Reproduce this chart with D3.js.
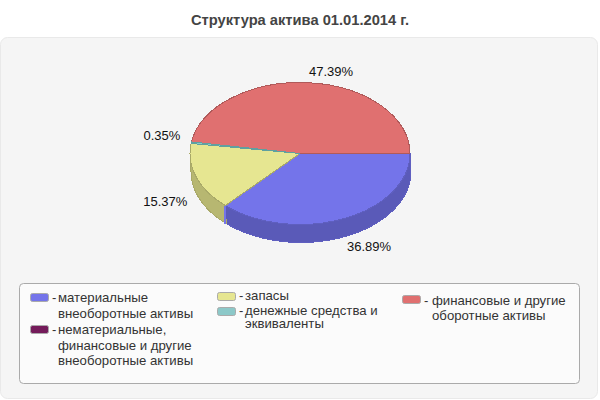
<!DOCTYPE html>
<html>
<head>
<meta charset="utf-8">
<script src="https://cdn.jsdelivr.net/npm/d3@7"></script>
<style>
  html, body { margin: 0; padding: 0; background: #fff; }
  svg { display: block; }
  text { font-family: "Liberation Sans", Arial, sans-serif; }
</style>
</head>
<body>
<script>
const title = "Структура актива 01.01.2014 г.";
const categories = [
  ["материальные", "внеоборотные активы"],
  ["нематериальные,", "финансовые и другие", "внеоборотные активы"],
  ["запасы"],
  ["денежные средства и", "эквиваленты"],
  ["финансовые и другие", "оборотные активы"]
];
const values = [36.89, 0, 15.37, 0.35, 47.39];
const topColors = ["#7474ea", "#741b5a", "#e6e691", "#8cc8c8", "#e07070"];
const sideColors = ["#5a5ab8", "#5a1546", "#b7b771", "#6c9c9c", "#ae5757"];
const edgeColors = ["#5f5fc0", "#5a1546", "#a9a968", "#5fa0a0", "#b05a5a"];

const width = 600, height = 400;
const cx = 300, cy = 153.5, rx = 110, ry = 71, depth = 18;

const svg = d3.select("body").append("svg").attr("width", width).attr("height", height);

svg.append("text").attr("x", 300).attr("y", 25).attr("text-anchor", "middle")
  .attr("font-size", 14.7).attr("font-weight", "bold").attr("fill", "#444").text(title);

svg.append("rect").attr("x", 0.5).attr("y", 37.5).attr("width", 597).attr("height", 361).attr("rx", 7)
  .attr("fill", "#f5f5f5").attr("stroke", "#e9e9e9");

// pie starts at 3 o'clock, goes clockwise
const slices = d3.pie().sort(null).startAngle(Math.PI / 2).endAngle(Math.PI * 2.5)(values);
const ex = a => cx + rx * Math.sin(a);
const ey = a => cy - ry * Math.cos(a);

const wallPath = (a0, a1) => {
  const p = d3.path();
  const n = 60;
  d3.range(n + 1).forEach(i => {
    const a = a0 + (a1 - a0) * i / n;
    if (i == 0) p.moveTo(ex(a), ey(a)); else p.lineTo(ex(a), ey(a));
  });
  d3.range(n + 1).forEach(i => {
    const a = a1 - (a1 - a0) * i / n;
    p.lineTo(ex(a) + 1, ey(a) + depth);
  });
  p.closePath();
  return p.toString();
};

const pie = svg.append("g").attr("shape-rendering", "crispEdges");

// only the front half shows a side wall
pie.selectAll("path.wall").data(slices.filter(d => d.value > 0 && d.startAngle < Math.PI * 1.5))
  .enter().append("path").attr("class", "wall")
  .attr("d", d => wallPath(d.startAngle, Math.min(d.endAngle, Math.PI * 1.5)))
  .attr("fill", d => sideColors[d.index])
  .attr("stroke", d => edgeColors[d.index]);

// cut face of the blue slice, seen at its far end
const cut = slices[0].endAngle;
pie.append("rect").attr("x", ex(cut) - 1).attr("y", ey(cut)).attr("width", 2).attr("height", depth)
  .attr("fill", topColors[0]);

const arc = d3.arc().innerRadius(0).outerRadius(rx);
const tops = pie.append("g").attr("transform", `translate(${cx},${cy}) scale(1,${ry / rx})`)
  .selectAll("path.top").data(slices.filter(d => d.value > 0))
  .enter().append("path").attr("class", "top")
  .attr("d", arc)
  .attr("fill", d => topColors[d.index])
  .attr("stroke", d => edgeColors[d.index])
  .attr("vector-effect", "non-scaling-stroke");
// the thin slice would vanish under the red edge otherwise
tops.filter(d => d.value < 1).raise();

// percent labels hang off the rim at the slice middle
svg.selectAll("text.pct").data(slices.filter(d => d.value > 0)).enter().append("text")
  .attr("class", "pct")
  .each(function(d) {
    const m = (d.startAngle + d.endAngle) / 2;
    const right = Math.sin(m) > 0;
    const front = Math.cos(m) < 0;
    d3.select(this)
      .attr("x", ex(m) + (right ? (front ? 3 : 0) : (front ? -9 : -11)))
      .attr("y", ey(m) + (front ? (right ? 32 : 29) : (right ? -7 : -3)))
      .attr("text-anchor", right ? "start" : "end");
  })
  .attr("font-size", 13).attr("fill", "#111").text(d => d.value.toFixed(2) + "%");

// legend
svg.append("rect").attr("x", 19.5).attr("y", 283.5).attr("width", 560).attr("height", 100).attr("rx", 4)
  .attr("fill", "#fbfbfb").attr("stroke", "#aaa");

const legendX = [30, 30, 217, 217, 402];
const legendY = [302, 334, 300, 315, 305];
const legendStep = [16, 15.5, 15, 12.5, 15];
const swatchY = [293, 325, 292, 307, 295];

const item = svg.selectAll("g.item").data(categories).enter().append("g").attr("class", "item");
item.append("rect")
  .attr("x", (d, i) => legendX[i] + 0.5).attr("y", (d, i) => swatchY[i] + 0.5)
  .attr("width", 18).attr("height", 8).attr("rx", 2)
  .attr("fill", (d, i) => topColors[i]).attr("stroke", "#aaa");
item.append("text")
  .attr("x", (d, i) => legendX[i] + 22).attr("y", (d, i) => legendY[i])
  .attr("font-size", 13).attr("fill", "#333").text("-");
item.each(function(lines, i) {
  d3.select(this).selectAll("text.line").data(lines).enter().append("text").attr("class", "line")
    .attr("x", legendX[i] + 28 + (i == 4 ? 2 : 0))
    .attr("y", (l, j) => legendY[i] + j * legendStep[i])
    .attr("font-size", 13.2).attr("fill", "#333").text(l => l);
});
</script>
</body>
</html>
